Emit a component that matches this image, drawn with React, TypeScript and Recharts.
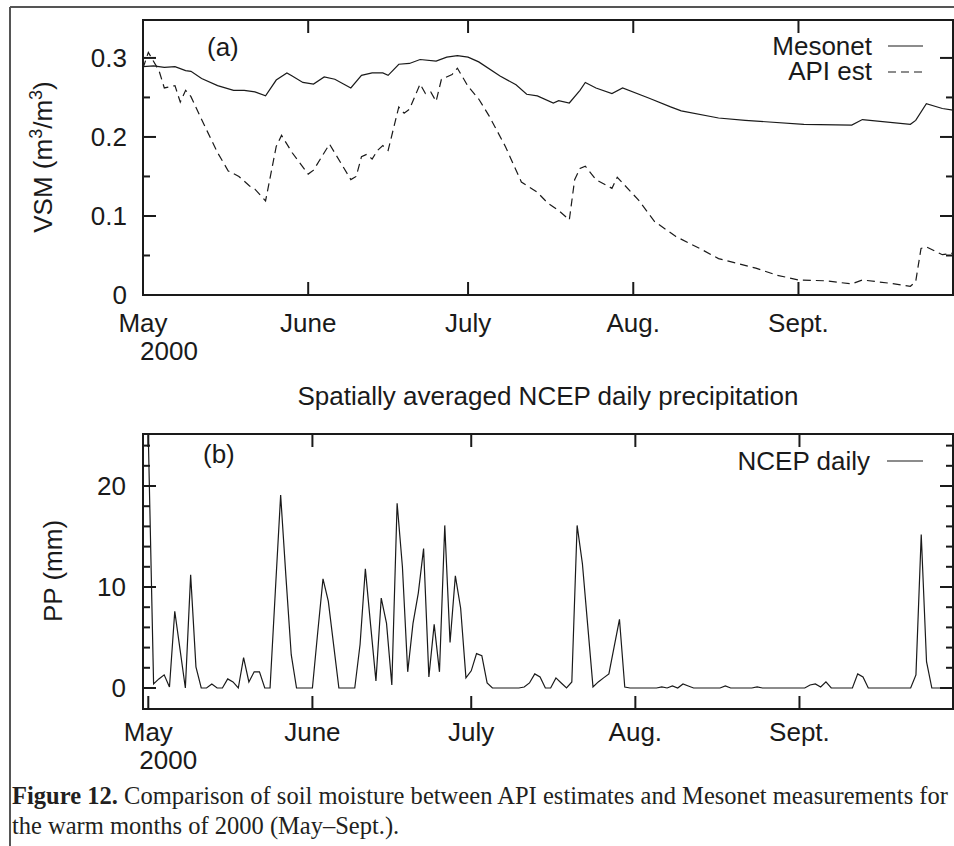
import React from 'react';
import { LineChart, Line, XAxis, YAxis, ReferenceArea } from 'recharts';

// ---------- data ----------
const MONTH_TICKS = [0, 31, 61, 92, 123]; // days since 1 May 2000
const MONTH_LABELS = ['May', 'June', 'July', 'Aug.', 'Sept.'];
const YEAR_LABEL = '2000';

const MESONET_DAYS = [0, 2, 4, 6, 8, 9, 11, 14, 17, 19, 21, 23, 25, 27, 28, 30, 32, 34, 36, 39, 41, 43, 45, 46, 48, 50, 52, 55, 57, 59, 61, 63, 67, 70, 72, 74, 77, 78, 80, 82, 83, 85, 88, 90, 95, 99, 101, 108, 113, 124, 133, 135, 144, 145, 147, 150, 152];
const MESONET_VSM = [0.289, 0.29, 0.288, 0.289, 0.284, 0.283, 0.274, 0.265, 0.259, 0.259, 0.257, 0.252, 0.272, 0.281, 0.277, 0.269, 0.267, 0.276, 0.273, 0.262, 0.278, 0.281, 0.281, 0.278, 0.292, 0.293, 0.298, 0.296, 0.301, 0.303, 0.301, 0.295, 0.277, 0.266, 0.254, 0.252, 0.243, 0.246, 0.243, 0.259, 0.269, 0.262, 0.255, 0.262, 0.249, 0.238, 0.233, 0.224, 0.221, 0.216, 0.215, 0.222, 0.216, 0.221, 0.242, 0.236, 0.234];

const API_DAYS = [0, 1, 3, 4, 6, 7, 8, 9, 11, 12, 14, 16, 18, 20, 21, 23, 25, 26, 28, 31, 32, 35, 39, 40, 41, 42, 43, 44, 45, 46, 48, 49, 50, 52, 53, 54, 55, 56, 58, 59, 61, 63, 65, 68, 71, 74, 76, 78, 80, 81, 82, 83, 85, 88, 89, 93, 96, 100, 105, 108, 115, 119, 123, 128, 133, 135, 140, 144, 145, 146, 147, 150, 152];
const API_VSM = [0.287, 0.307, 0.284, 0.262, 0.265, 0.244, 0.259, 0.251, 0.222, 0.208, 0.18, 0.157, 0.15, 0.138, 0.134, 0.119, 0.188, 0.202, 0.18, 0.153, 0.158, 0.191, 0.146, 0.15, 0.175, 0.178, 0.172, 0.183, 0.189, 0.183, 0.238, 0.23, 0.235, 0.267, 0.255, 0.257, 0.245, 0.273, 0.279, 0.287, 0.264, 0.248, 0.226, 0.188, 0.143, 0.13, 0.116, 0.107, 0.095, 0.146, 0.16, 0.163, 0.146, 0.135, 0.149, 0.12, 0.093, 0.074, 0.057, 0.046, 0.034, 0.025, 0.019, 0.018, 0.014, 0.019, 0.015, 0.011, 0.017, 0.059, 0.061, 0.051, 0.053];

// daily NCEP precipitation (mm), 1 May .. 30 Sept
const NCEP_PP = [
  25, 0.4, 0.9, 1.3, 0.1, 7.6, 3.8, 0, 11.2, 2.1,
  0, 0, 0.4, 0, 0, 0.9, 0.6, 0, 3.0, 0.6,
  1.6, 1.6, 0, 0, 9.6, 19.1, 11, 3.3, 0, 0,
  0, 0, 5.5, 10.8, 8.6, 4.3, 0, 0, 0, 0,
  4.3, 11.8, 6.2, 0.7, 8.9, 6.4, 0.3, 18.3, 12.0, 1.6,
  6.4, 9.4, 13.8, 1.1, 6.3, 1.6, 16.1, 4.5, 11.1, 7.9,
  1.0, 1.7, 3.4, 3.2, 0.5, 0, 0, 0, 0, 0,
  0, 0.1, 0.5, 1.4, 1.1, 0, 0, 1.0, 0.5, 0,
  0.6, 16.1, 12.3, 6.2, 0.1, 0.6, 1.0, 1.4, 4.1, 6.8,
  0.1, 0, 0, 0, 0, 0, 0, 0.1, 0, 0.2,
  0, 0.4, 0.2, 0, 0, 0, 0, 0, 0, 0.2,
  0, 0, 0, 0, 0, 0.1, 0, 0, 0, 0,
  0, 0, 0, 0, 0, 0.3, 0.4, 0.1, 0.6, 0,
  0, 0, 0, 0, 1.4, 1.1, 0, 0, 0, 0,
  0, 0, 0, 0, 0, 1.3, 15.2, 2.6, 0, 0,
  0, 0, 0,
];

const VSM_TICKS = [0, 0.05, 0.1, 0.15, 0.2, 0.25, 0.3];
const VSM_TICK_LABELS = ['0', '', '0.1', '', '0.2', '', '0.3'];
const PP_TICKS = [0, 2, 4, 6, 8, 10, 12, 14, 16, 18, 20, 22, 24];
const PP_TICK_LABELS = ['0', '', '', '', '', '10', '', '', '', '', '20', '', ''];

const TOP_X_DOMAIN: [number, number] = [0, 152];
const BOT_X_DOMAIN: [number, number] = [-1, 152];
const VSM_DOMAIN: [number, number] = [0, 0.348];
const PP_DOMAIN: [number, number] = [-2.08, 25.15];

const mesonetData = MESONET_DAYS.map((d, i) => ({ day: d, vsm: MESONET_VSM[i] }));
const apiData = API_DAYS.map((d, i) => ({ day: d, vsm: API_VSM[i] }));
const ncepData = NCEP_PP.map((v, i) => ({ day: i, pp: v }));

// ---------- style ----------
const SANS = '"Liberation Sans", Arimo, Helvetica, Arial, sans-serif';
const SERIF = '"Liberation Serif", "Times New Roman", Times, serif';
const INK = '#1a1a1a';
const FS = 26;

// layout constants
const PLOT_RIGHT = 953;
const TOP_PLOT_TOP = 20;
const BOT_PLOT_TOP = 54; // inside second chart's svg

function makeXTick(plotTop: number, labelDy: number, yearDx: number) {
  return (props: any) => {
    const { x, y, payload } = props;
    const i = MONTH_TICKS.indexOf(payload.value);
    return (
      <g>
        <line x1={x} x2={x} y1={y} y2={y - 13} stroke={INK} strokeWidth={2} />
        <line x1={x} x2={x} y1={plotTop} y2={plotTop + 13} stroke={INK} strokeWidth={2} />
        <text x={x} y={y + labelDy} textAnchor="middle" fontSize={FS} fontFamily={SANS} fill={INK}>
          {MONTH_LABELS[i]}
        </text>
        {i === 0 && (
          <text x={x + yearDx} y={y + labelDy + 28} textAnchor="middle" fontSize={FS} fontFamily={SANS} fill={INK}>
            {YEAR_LABEL}
          </text>
        )}
      </g>
    );
  };
}

function makeYTick(ticks: number[], labels: string[], gap: number) {
  return (props: any) => {
    const { x, y, payload } = props;
    const i = ticks.findIndex((t) => Math.abs(t - payload.value) < 1e-9);
    const label = i >= 0 ? labels[i] : '';
    const len = label ? 13 : 7;
    return (
      <g>
        <line x1={x} x2={x + len} y1={y} y2={y} stroke={INK} strokeWidth={2} />
        <line x1={PLOT_RIGHT} x2={PLOT_RIGHT - len} y1={y} y2={y} stroke={INK} strokeWidth={2} />
        {label && (
          <text x={x - gap} y={y} dy="0.36em" textAnchor="end" fontSize={FS} fontFamily={SANS} fill={INK}>
            {label}
          </text>
        )}
      </g>
    );
  };
}

export default function App() {
  return (
    <div style={{ position: 'absolute', left: 0, top: 0, width: 954, height: 846, background: '#fff', overflow: 'hidden' }}>
      {/* panel (a) */}
      <div style={{ position: 'absolute', left: 0, top: 0 }}>
        <LineChart width={954} height={370} margin={{ top: TOP_PLOT_TOP, right: 1, bottom: 5, left: 83 }}>
          <XAxis
            type="number"
            dataKey="day"
            domain={TOP_X_DOMAIN}
            ticks={MONTH_TICKS}
            interval={0}
            allowDataOverflow
            axisLine={false}
            tickLine={false}
            tickSize={0}
            tickMargin={0}
            height={70}
            tick={makeXTick(TOP_PLOT_TOP, 37, 26)}
          />
          <YAxis
            type="number"
            domain={VSM_DOMAIN}
            ticks={VSM_TICKS}
            interval={0}
            allowDataOverflow
            axisLine={false}
            tickLine={false}
            tickSize={0}
            tickMargin={0}
            width={60}
            tick={makeYTick(VSM_TICKS, VSM_TICK_LABELS, 16)}
          />
          <ReferenceArea
            x1={TOP_X_DOMAIN[0]}
            x2={TOP_X_DOMAIN[1]}
            y1={VSM_DOMAIN[0]}
            y2={VSM_DOMAIN[1]}
            fill="none"
            stroke={INK}
            strokeWidth={2}
            ifOverflow="visible"
          />
          <Line
            data={mesonetData}
            dataKey="vsm"
            name="Mesonet"
            type="linear"
            stroke={INK}
            strokeWidth={1.2}
            dot={false}
            isAnimationActive={false}
          />
          <Line
            data={apiData}
            dataKey="vsm"
            name="API est"
            type="linear"
            stroke={INK}
            strokeWidth={1.2}
            strokeDasharray="8 5"
            dot={false}
            isAnimationActive={false}
          />
        </LineChart>
      </div>

      {/* panel (b) */}
      <div style={{ position: 'absolute', left: 0, top: 380 }}>
        <LineChart width={954} height={420} margin={{ top: BOT_PLOT_TOP, right: 1, bottom: 0, left: 83 }}>
          <XAxis
            type="number"
            dataKey="day"
            domain={BOT_X_DOMAIN}
            ticks={MONTH_TICKS}
            interval={0}
            allowDataOverflow
            axisLine={false}
            tickLine={false}
            tickSize={0}
            tickMargin={0}
            height={91}
            tick={makeXTick(BOT_PLOT_TOP, 32, 20)}
          />
          <YAxis
            type="number"
            domain={PP_DOMAIN}
            ticks={PP_TICKS}
            interval={0}
            allowDataOverflow
            axisLine={false}
            tickLine={false}
            tickSize={0}
            tickMargin={0}
            width={60}
            tick={makeYTick(PP_TICKS, PP_TICK_LABELS, 17)}
          />
          <ReferenceArea
            x1={BOT_X_DOMAIN[0]}
            x2={BOT_X_DOMAIN[1]}
            y1={PP_DOMAIN[0]}
            y2={PP_DOMAIN[1]}
            fill="none"
            stroke={INK}
            strokeWidth={2}
            ifOverflow="visible"
          />
          <Line
            data={ncepData}
            dataKey="pp"
            name="NCEP daily"
            type="linear"
            stroke={INK}
            strokeWidth={1.2}
            dot={false}
            isAnimationActive={false}
          />
        </LineChart>
      </div>

      {/* annotations, legends, titles, caption */}
      <svg width={954} height={846} style={{ position: 'absolute', left: 0, top: 0, pointerEvents: 'none' }}>
        {/* figure frame */}
        <line x1={10} x2={954} y1={7} y2={7} stroke="#555" strokeWidth={2} />
        <line x1={10} x2={10} y1={7} y2={846} stroke="#555" strokeWidth={2} />

        {/* panel (a) */}
        <text x={207} y={56} fontSize={FS} fontFamily={SANS} fill={INK}>(a)</text>
        <text x={872} y={55} textAnchor="end" fontSize={FS} fontFamily={SANS} fill={INK}>Mesonet</text>
        <line x1={888} x2={923} y1={46} y2={46} stroke={INK} strokeWidth={1.2} />
        <text x={872} y={80} textAnchor="end" fontSize={FS} fontFamily={SANS} fill={INK}>API est</text>
        <line x1={888} x2={923} y1={72} y2={72} stroke={INK} strokeWidth={1.2} strokeDasharray="8 5" />
        <text transform="translate(52,157) rotate(-90)" textAnchor="middle" fontSize={FS} fontFamily={SANS} fill={INK}>
          VSM (m<tspan dy={-10} fontSize={18}>3</tspan><tspan dy={10}>/m</tspan><tspan dy={-10} fontSize={18}>3</tspan><tspan dy={10}>)</tspan>
        </text>

        {/* middle title */}
        <text x={548} y={405} textAnchor="middle" fontSize={FS} fontFamily={SANS} fill={INK}>
          Spatially averaged NCEP daily precipitation
        </text>

        {/* panel (b) */}
        <text x={203} y={463} fontSize={FS} fontFamily={SANS} fill={INK}>(b)</text>
        <text x={870} y={470} textAnchor="end" fontSize={FS} fontFamily={SANS} fill={INK}>NCEP daily</text>
        <line x1={887} x2={923} y1={461} y2={461} stroke={INK} strokeWidth={1.2} />
        <text transform="translate(62,571) rotate(-90)" textAnchor="middle" fontSize={FS} fontFamily={SANS} fill={INK}>
          PP (mm)
        </text>

        {/* caption */}
        <text x={12} y={804} fontSize={24.5} fontFamily={SERIF} fill="#231f20" textLength={936} lengthAdjust="spacing">
          <tspan fontWeight="bold">Figure 12.</tspan> Comparison of soil moisture between API estimates and Mesonet measurements for
        </text>
        <text x={12} y={834} fontSize={24.5} fontFamily={SERIF} fill="#231f20">
          the warm months of 2000 (May–Sept.).
        </text>
      </svg>
    </div>
  );
}
